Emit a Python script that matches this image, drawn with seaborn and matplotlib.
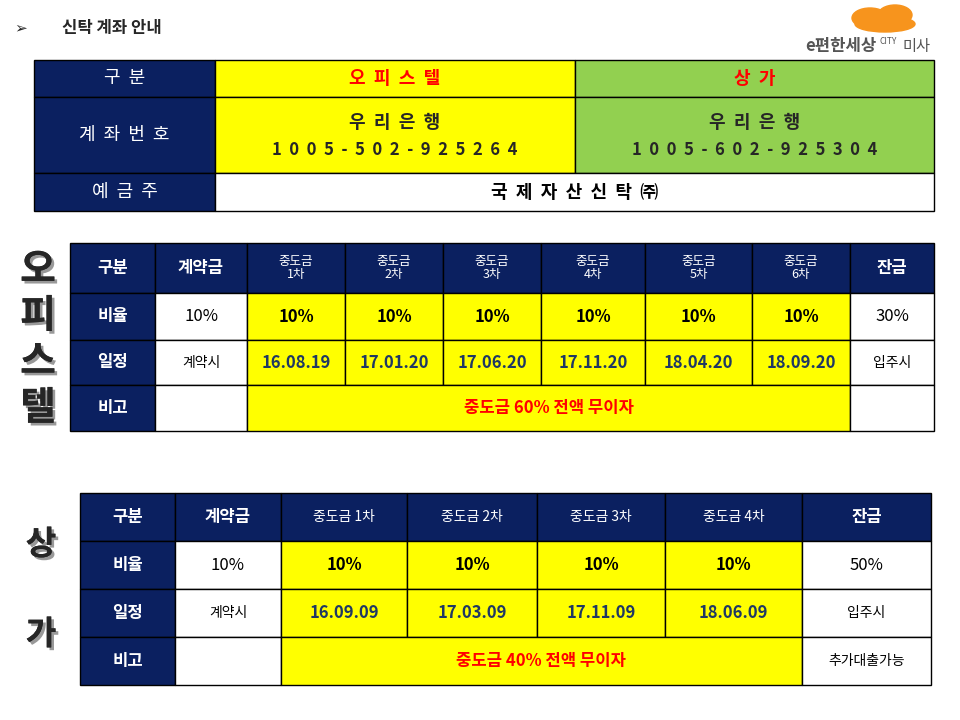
import seaborn as sns
import matplotlib.pyplot as plt
import matplotlib.patheffects as pe
from matplotlib.patches import Rectangle, Ellipse

sns.set_style("white")
plt.rcParams["font.family"] = "Noto Sans CJK KR"

NAVY = "#0b2060"
YEL = "#ffff00"
GRN = "#92d050"
DATE = "#1f3864"

# ---- data ----
acct_labels = ["구  분", "계  좌  번  호", "예  금  주"]
acct_kinds = ["오  피  스  텔", "상  가"]
acct_bank = "우  리  은  행"
acct_numbers = ["1  0  0  5  -  5  0  2  -  9  2  5  2  6  4",
                "1  0  0  5  -  6  0  2  -  9  2  5  3  0  4"]
acct_owner = "국  제  자  산  신  탁  ㈜"

off_header = ["구분", "계약금", "중도금\n1차", "중도금\n2차", "중도금\n3차", "중도금\n4차", "중도금\n5차", "중도금\n6차", "잔금"]
off_ratio = ["10%", "10%", "10%", "10%", "10%", "10%", "10%", "30%"]
off_dates = ["계약시", "16.08.19", "17.01.20", "17.06.20", "17.11.20", "18.04.20", "18.09.20", "입주시"]
off_note = "중도금 60% 전액 무이자"

shop_header = ["구분", "계약금", "중도금 1차", "중도금 2차", "중도금 3차", "중도금 4차", "잔금"]
shop_ratio = ["10%", "10%", "10%", "10%", "10%", "50%"]
shop_dates = ["계약시", "16.09.09", "17.03.09", "17.11.09", "18.06.09", "입주시"]
shop_note = "중도금 40% 전액 무이자"
shop_extra = "추가대출가능"
row_labels = ["비율", "일정", "비고"]

fig = plt.figure(figsize=(9.6, 7.2), dpi=100)
ax = fig.add_axes([0, 0, 1, 1])
ax.set_xlim(0, 960)
ax.set_ylim(720, 0)
ax.axis("off")


def cell(x0, x1, y0, y1, fc, text="", color="black", size=11, weight="normal"):
    ax.add_patch(Rectangle((x0, y0), x1 - x0, y1 - y0, facecolor=fc, edgecolor="black", lw=1))
    if text:
        ax.text((x0 + x1) / 2, (y0 + y1) / 2, text, ha="center", va="center",
                color=color, fontsize=size, fontweight=weight, linespacing=1.0)


# title + logo
ax.text(14, 28, "➢", fontsize=11, va="center", fontfamily="DejaVu Sans")
ax.text(62, 28, "신탁 계좌 안내", fontsize=12, fontweight="bold", va="center")
for cx, cy, w, h in [(870, 18, 36, 20), (895, 15, 34, 20), (885, 24, 60, 16)]:
    ax.add_patch(Ellipse((cx, cy), w, h, color="#f7941d"))
ax.text(805, 46, "e편한세상", fontsize=12, color="#555555", va="center", fontweight="bold")
ax.text(880, 41, "CITY", fontsize=6, color="#555555", va="center")
ax.text(903, 46, "미사", fontsize=11, color="#555555", va="center")

# account table
ys = [60, 97, 173, 211]
for i, lab in enumerate(acct_labels):
    cell(34, 215, ys[i], ys[i + 1], NAVY, lab, "white", 13)
cell(215, 575, 60, 97, YEL, acct_kinds[0], "red", 13, "bold")
cell(575, 934, 60, 97, GRN, acct_kinds[1], "red", 13, "bold")
for (x0, x1, fc), num in zip([(215, 575, YEL), (575, 934, GRN)], acct_numbers):
    cell(x0, x1, 97, 173, fc)
    ax.text((x0 + x1) / 2, 122, acct_bank, ha="center", va="center", fontsize=13, fontweight="bold")
    ax.text((x0 + x1) / 2, 150, num, ha="center", va="center", fontsize=12, fontweight="bold")
cell(215, 934, 173, 211, "white", acct_owner, "black", 13, "bold")


def schedule(xs, ys, header, ratio, dates, note, extra, hsize):
    n = len(xs) - 1
    for j in range(n):
        big = j in (0, 1, n - 1)
        cell(xs[j], xs[j + 1], ys[0], ys[1], NAVY, header[j], "white",
             12 if big else hsize, "bold" if big else "normal")
    for r, lab in enumerate(row_labels):
        cell(xs[0], xs[1], ys[r + 1], ys[r + 2], NAVY, lab, "white", 12, "bold")
    for j in range(1, n):
        mid = 1 < j < n - 1
        cell(xs[j], xs[j + 1], ys[1], ys[2], YEL if mid else "white", ratio[j - 1],
             "black", 12, "bold" if mid else "normal")
        cell(xs[j], xs[j + 1], ys[2], ys[3], YEL if mid else "white", dates[j - 1],
             DATE if mid else "black", 12 if mid else 10, "bold" if mid else "normal")
    cell(xs[1], xs[2], ys[3], ys[4], "white")
    cell(xs[2], xs[n - 1], ys[3], ys[4], YEL, note, "red", 12, "bold")
    cell(xs[n - 1], xs[n], ys[3], ys[4], "white", extra, "black", 10)


schedule([70, 155, 247, 345, 443, 541, 645, 752, 850, 934], [243, 293, 340, 385, 431],
         off_header, off_ratio, off_dates, off_note, "", 9)
schedule([80, 175, 281, 407, 537, 665, 802, 931], [493, 541, 589, 637, 685],
         shop_header, shop_ratio, shop_dates, shop_note, shop_extra, 10)

# big side labels with shadow
shadow = [pe.withSimplePatchShadow(offset=(2, -2), shadow_rgbFace="#999999", alpha=1), pe.Normal()]
for ch, y in zip("오피스텔", [270, 316, 362, 408]):
    ax.text(38, y, ch, ha="center", va="center", fontsize=28, fontweight="bold", path_effects=shadow)
for ch, y in zip("상가", [545, 635]):
    ax.text(41, y, ch, ha="center", va="center", fontsize=24, fontweight="bold", path_effects=shadow)

fig.savefig("out.png", dpi=100)
